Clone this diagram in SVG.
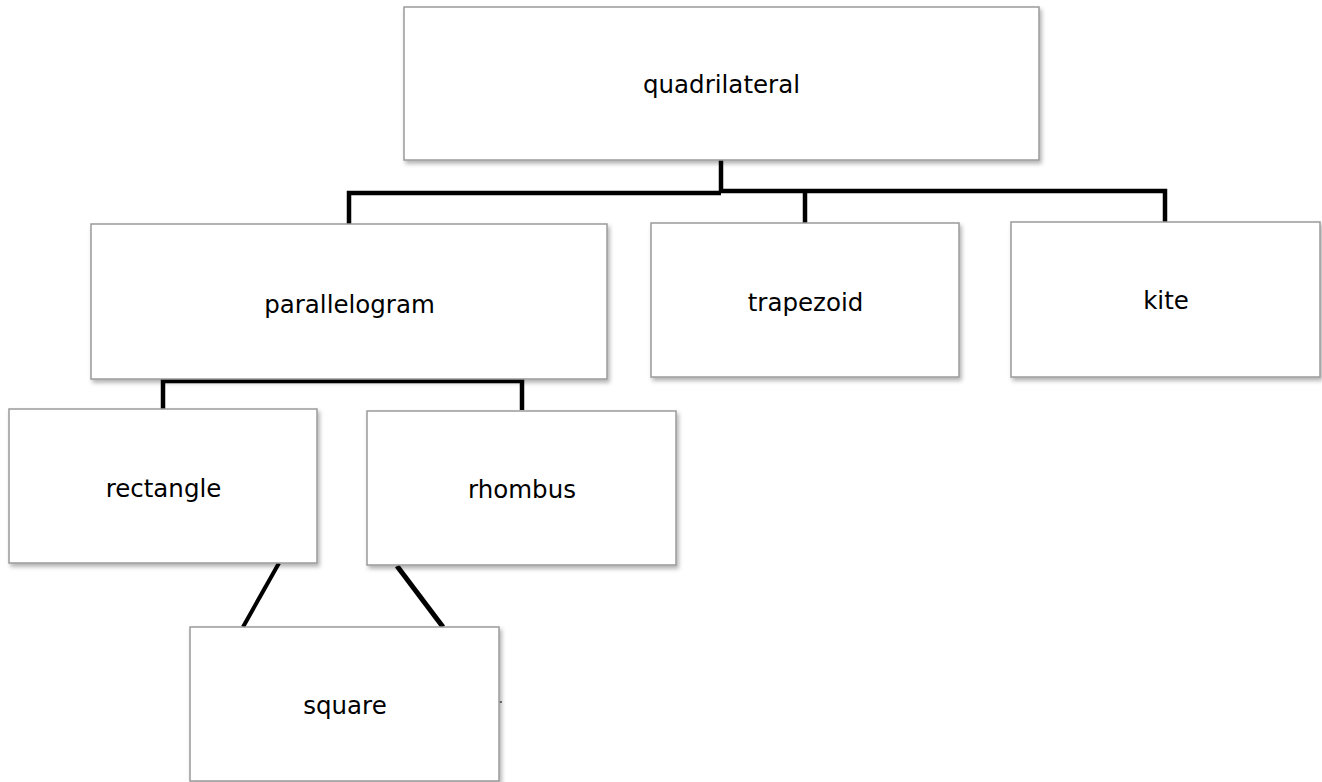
<svg xmlns="http://www.w3.org/2000/svg" width="1322" height="782" viewBox="0 0 1322 782">
<style>
.box{fill:#ffffff;stroke:#9a9a9a;stroke-width:1.5;filter:url(#sh)}
.lbl{font-family:"DejaVu Sans","Liberation Sans",sans-serif;font-size:24.5px;fill:#000;text-anchor:middle}
.con{fill:none;stroke:#000;stroke-width:4.5;stroke-linejoin:miter;stroke-linecap:butt}
</style>
<defs>
<filter id="sh" x="-5%" y="-5%" width="115%" height="120%">
<feDropShadow dx="2" dy="3" stdDeviation="2" flood-color="#000" flood-opacity="0.3"/>
</filter>
</defs>
<rect width="1322" height="782" fill="#ffffff"/>
<g id="connectors">
<path class="con" d="M721,160 V193"/>
<path class="con" d="M349,224 V193 H721"/>
<path class="con" d="M721,191 H1165 V222"/>
<path class="con" d="M805,191 V223"/>
<path class="con" d="M163,409 V381 H522 V410"/>
<path class="con" style="stroke-width:4" d="M279,563 L243,627"/>
<path class="con" style="stroke-width:5" d="M397,566 L443,627"/>
<path fill="none" stroke="#000" stroke-width="1" d="M498,702 H502"/>
</g>
<g id="quadrilateral"><rect class="box" x="404" y="7" width="635" height="153"/><text class="lbl" x="721.5" y="93">quadrilateral</text></g>
<g id="parallelogram"><rect class="box" x="91" y="224" width="516" height="155"/><text class="lbl" x="349.5" y="313">parallelogram</text></g>
<g id="trapezoid"><rect class="box" x="651" y="223" width="308" height="154"/><text class="lbl" x="805.5" y="311">trapezoid</text></g>
<g id="kite"><rect class="box" x="1011" y="222" width="309" height="155"/><text class="lbl" x="1166" y="309">kite</text></g>
<g id="rectangle"><rect class="box" x="9" y="409" width="308" height="154"/><text class="lbl" x="163.5" y="497">rectangle</text></g>
<g id="rhombus"><rect class="box" x="367" y="411" width="309" height="154"/><text class="lbl" x="522" y="498">rhombus</text></g>
<g id="square"><rect class="box" x="190" y="627" width="309" height="154"/><text class="lbl" x="345" y="714">square</text></g>
</svg>
